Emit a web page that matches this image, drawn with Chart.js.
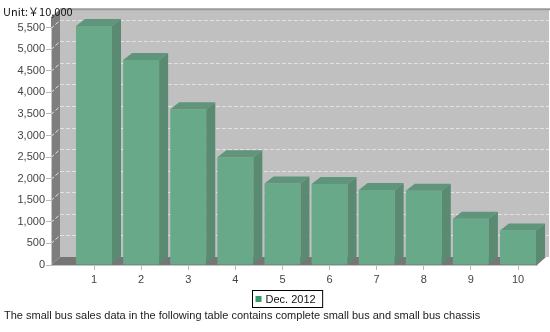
<!DOCTYPE html>
<html>
<head>
<meta charset="utf-8">
<script src="https://cdn.jsdelivr.net/npm/chart.js@4"></script>
<style>
  body { margin: 0; background: #fff; }
  canvas { display: block; }
</style>
</head>
<body>
<canvas id="chartBar" width="550" height="332"></canvas>
<script>
// Small bus sales, unit: 10,000 yuan
const categories = [1, 2, 3, 4, 5, 6, 7, 8, 9, 10];
const sales = [5540, 4750, 3610, 2500, 1890, 1880, 1740, 1720, 1070, 800];
const seriesName = "Dec. 2012";
const yMin = 0;
const yMax = 5500;
const yStep = 500;
const unitText = "Unit:￥10,000";
const caption = "The small bus sales data in the following table contains complete small bus and small bus chassis";

const depth = { dx: 9, dy: 8 };
const barDepth = { dx: 9, dy: 7 };
const font = "'Liberation Sans', Arial, sans-serif";

// walls, floor and dashed grid behind the bars
const walls = {
  id: "walls",
  beforeDraw: function (chart) {
    const ctx = chart.ctx;
    const a = chart.chartArea;
    const y = chart.scales.y;
    const top = a.top - 10.5;
    const right = 549;
    ctx.save();
    // back wall
    ctx.fillStyle = "#c0c0c0";
    ctx.fillRect(a.left + depth.dx, top - depth.dy, right - a.left - depth.dx, a.bottom - top);
    // top edge
    ctx.strokeStyle = "#9a9a9a";
    ctx.lineWidth = 2;
    ctx.beginPath();
    ctx.moveTo(a.left + depth.dx, top - depth.dy);
    ctx.lineTo(550, top - depth.dy);
    ctx.stroke();
    // left wall
    ctx.fillStyle = "#7e7e7e";
    ctx.beginPath();
    ctx.moveTo(a.left, top);
    ctx.lineTo(a.left + depth.dx, top - depth.dy);
    ctx.lineTo(a.left + depth.dx, a.bottom - depth.dy);
    ctx.lineTo(a.left, a.bottom);
    ctx.closePath();
    ctx.fill();
    // floor
    ctx.fillStyle = "#767676";
    ctx.beginPath();
    ctx.moveTo(a.left, a.bottom);
    ctx.lineTo(a.left + depth.dx, a.bottom - depth.dy);
    ctx.lineTo(a.right + depth.dx, a.bottom - depth.dy);
    ctx.lineTo(a.right, a.bottom);
    ctx.closePath();
    ctx.fill();
    // grid lines
    ctx.strokeStyle = "#e2e2e2";
    ctx.lineWidth = 1;
    ctx.setLineDash([4, 2]);
    y.ticks.forEach(function (t) {
      if (t.value === yMin) return;
      const py = Math.round(y.getPixelForValue(t.value)) + 0.5;
      ctx.beginPath();
      ctx.moveTo(a.left, py);
      ctx.lineTo(a.left + depth.dx, py - depth.dy);
      ctx.lineTo(right, py - depth.dy);
      ctx.stroke();
    });
    ctx.restore();
  },
  // side and top faces of every bar
  afterDatasetsDraw: function (chart) {
    const ctx = chart.ctx;
    const meta = chart.getDatasetMeta(0);
    ctx.save();
    meta.data.forEach(function (bar) {
      const l = bar.x - bar.width / 2;
      const r = bar.x + bar.width / 2;
      const t = bar.y;
      const b = bar.base;
      ctx.fillStyle = "#5f957a";
      ctx.beginPath();
      ctx.moveTo(l, t);
      ctx.lineTo(l + barDepth.dx, t - barDepth.dy);
      ctx.lineTo(r + barDepth.dx, t - barDepth.dy);
      ctx.lineTo(r, t);
      ctx.closePath();
      ctx.fill();
      ctx.fillStyle = "#5a8a72";
      ctx.beginPath();
      ctx.moveTo(r, t);
      ctx.lineTo(r + barDepth.dx, t - barDepth.dy);
      ctx.lineTo(r + barDepth.dx, b - depth.dy);
      ctx.lineTo(r, b);
      ctx.closePath();
      ctx.fill();
    });
    ctx.restore();
  },
  // unit, legend box and caption
  afterDraw: function (chart) {
    const ctx = chart.ctx;
    ctx.save();
    ctx.textBaseline = "middle";
    ctx.fillStyle = "#111";
    ctx.font = "11px 'Noto Sans CJK SC', sans-serif";
    ctx.fillText(unitText, 3, 12);

    ctx.font = "11px " + font;
    const tw = ctx.measureText(seriesName).width;
    const bw = tw + 20;
    const bx = Math.round(287 - bw / 2) + 0.5;
    ctx.strokeStyle = "#000";
    ctx.lineWidth = 1;
    ctx.strokeRect(bx, 290.5, bw, 17);
    ctx.fillStyle = "#339966";
    ctx.fillRect(bx + 3, 296, 6, 6);
    ctx.fillStyle = "#111";
    ctx.fillText(seriesName, bx + 13, 299.5);

    ctx.fillStyle = "#222";
    ctx.fillText(caption, 4, 315.5);
    ctx.restore();
  }
};

const data = {
  datasets: [
    {
      label: seriesName,
      data: categories.map(function (c, i) { return { x: c, y: sales[i] }; }),
      backgroundColor: "#68a98a",
      borderWidth: 0,
      barPercentage: 0.764,
      categoryPercentage: 1,
      clip: false,
    },
  ],
};

const configBarChart = {
  type: "bar",
  data,
  options: {
    responsive: false,
    animation: false,
    devicePixelRatio: 1,
    events: [],
    layout: { padding: { top: 27.7, right: 13, bottom: 0, left: 0 } },
    plugins: { legend: { display: false }, tooltip: { enabled: false } },
    scales: {
      x: {
        type: "linear",
        offset: false,
        min: 0.087,
        max: 10.403,
        afterFit: function (s) { s.height = 67; },
        afterBuildTicks: function (s) {
          s.ticks = categories.map(function (c) { return { value: c }; });
        },
        grid: { offset: false, drawOnChartArea: false, drawTicks: true, tickLength: 5, color: "#b8b8b8" },
        border: { color: "#c4c4c4" },
        ticks: { padding: 3, color: "#444", font: { family: font, size: 11 } },
      },
      y: {
        min: yMin,
        max: yMax,
        afterFit: function (s) { s.width = 51; },
        grid: { drawOnChartArea: false, drawTicks: true, tickLength: 5, color: "#b8b8b8" },
        border: { color: "#c4c4c4" },
        ticks: { stepSize: yStep, padding: 1, color: "#444", font: { family: font, size: 11 } },
      },
    },
  },
  plugins: [walls],
};

var chartBar = new Chart(document.getElementById("chartBar"), configBarChart);
</script>
</body>
</html>
